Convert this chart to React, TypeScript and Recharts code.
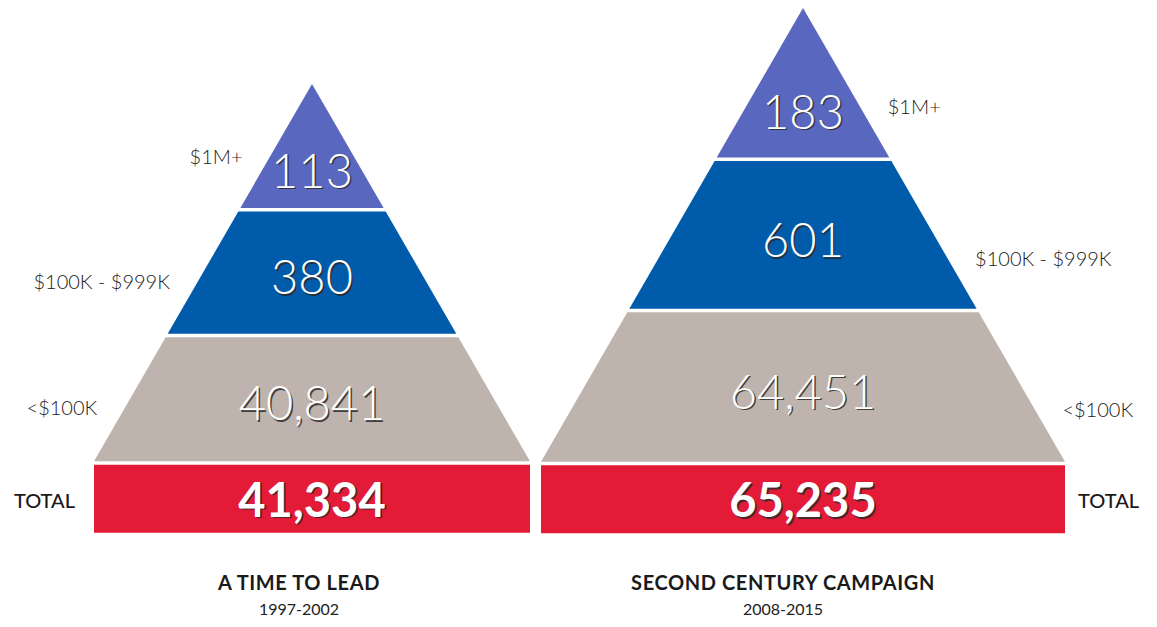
import { FunnelChart, Funnel } from 'recharts'

// donor counts per gift tier, top of the pyramid first
const tiers = ['$1M+', '$100K - $999K', '<$100K']
const timeToLeadDonors = [113, 380, 40841]
const secondCenturyDonors = [183, 601, 64451]
const campaignTotals = [41334, 65235]
const campaignNames = ['A TIME TO LEAD', 'SECOND CENTURY CAMPAIGN']
const campaignYears = ['1997-2002', '2008-2015']
const totalLabel = 'TOTAL'

const tierColors = ['#5A67BE', '#005BAA', '#BEB4AD', '#E41B37']
const FONT = 'Lato, "Open Sans", sans-serif'
const GAP = 3.5
const TOTAL_H = 68

// step = row index in the pyramid; the funnel turns it into the row width
const buildRows = (donors: number[], total: number) => [
  ...tiers.map((tier, i) => ({ name: tier, count: donors[i], step: i })),
  { name: totalLabel, count: total, step: tiers.length },
]

const fmt = (n: number) => n.toLocaleString('en-US')

function ShadowText({ x, y, size, weight, children }: any) {
  const common = {
    textAnchor: 'middle' as const,
    dominantBaseline: 'central' as const,
    fontSize: size,
    fontWeight: weight,
    fontFamily: FONT,
  }
  return (
    <g>
      <text x={x + 1.5} y={y + 1.5} fill="#2a2a2a" fillOpacity={0.85} {...common}>{children}</text>
      <text x={x} y={y} fill="#fff" {...common}>{children}</text>
    </g>
  )
}

function PyramidShape(props: any) {
  const { x, y, upperWidth, lowerWidth, height, side, labelAt } = props
  const step = props.step ?? props.payload?.step ?? props.payload?.payload?.step
  const row = { name: props.payload?.name ?? props.name, count: props.payload?.count ?? props.count }
  const cx = x + upperWidth / 2
  const fill = tierColors[step]
  const sideText = {
    fontSize: 20,
    fontWeight: 300,
    fontFamily: FONT,
    fill: '#1A1A1A',
    dominantBaseline: 'central' as const,
  }

  if (step === tiers.length) {
    const top = y + GAP
    return (
      <g>
        <rect x={x} y={top} width={upperWidth} height={TOTAL_H} fill={fill} />
        <ShadowText x={cx} y={top + TOTAL_H / 2} size={47} weight={700}>{fmt(row.count)}</ShadowText>
        <text
          {...sideText}
          fontWeight={500}
          x={side === 'left' ? x - 19 : x + upperWidth + 13}
          y={top + TOTAL_H / 2 + 1}
          textAnchor={side === 'left' ? 'end' : 'start'}
        >
          {row.name}
        </text>
      </g>
    )
  }

  const t0 = step === 0 ? 0 : GAP / 2 / height
  const t1 = step < tiers.length - 1 ? 1 - GAP / 2 / height : 1
  const w = (t: number) => upperWidth + (lowerWidth - upperWidth) * t
  const pts = [
    [cx - w(t0) / 2, y + height * t0],
    [cx + w(t0) / 2, y + height * t0],
    [cx + w(t1) / 2, y + height * t1],
    [cx - w(t1) / 2, y + height * t1],
  ].map((p) => p.join(',')).join(' ')

  const ly = y + height * labelAt
  const half = w(labelAt) / 2
  const ny = y + height * (step === 0 ? 0.68 : 0.53)

  return (
    <g>
      <polygon points={pts} fill={fill} />
      <ShadowText x={cx} y={ny} size={47} weight={300}>{fmt(row.count)}</ShadowText>
      <text
        {...sideText}
        x={side === 'left' ? cx - half - 28 : cx + half + 28}
        y={ly}
        textAnchor={side === 'left' ? 'end' : 'start'}
      >
        {row.name}
      </text>
    </g>
  )
}

function Pyramid({ donors, total, side, labelAt, left, top, width, height }: any) {
  return (
    <div style={{ position: 'absolute', left, top }}>
      <FunnelChart width={width} height={height} margin={{ top: 0, right: 0, bottom: 0, left: 0 }}>
        <Funnel
          data={buildRows(donors, total)}
          dataKey="step"
          nameKey="name"
          lastShapeType="rectangle"
          isAnimationActive={false}
          shape={(p: any) => <PyramidShape {...p} side={side} labelAt={labelAt} />}
        />
      </FunnelChart>
    </div>
  )
}

function Caption({ center, index }: any) {
  return (
    <div style={{ position: 'absolute', left: center - 200, top: 570, width: 400, textAlign: 'center', color: '#1A1A1A' }}>
      <div style={{ fontSize: 20, fontWeight: 700, lineHeight: '24px', letterSpacing: 0.6 }}>{campaignNames[index]}</div>
      <div style={{ fontSize: 16, fontWeight: 400, lineHeight: '20px', marginTop: 5, color: '#222' }}>{campaignYears[index]}</div>
    </div>
  )
}

export default function App() {
  return (
    <div style={{ position: 'absolute', left: 0, top: 0, width: 1157, height: 627, background: '#fff', fontFamily: FONT, overflow: 'hidden' }}>
      <style>{'.recharts-surface{overflow:visible}'}</style>
      <Pyramid donors={timeToLeadDonors} total={campaignTotals[0]} side="left" labelAt={0.57}
        left={94} top={84} width={436} height={503} />
      <Pyramid donors={secondCenturyDonors} total={campaignTotals[1]} side="right" labelAt={0.65}
        left={541} top={8} width={524} height={605} />
      <Caption center={299} index={0} />
      <Caption center={783} index={1} />
    </div>
  )
}
